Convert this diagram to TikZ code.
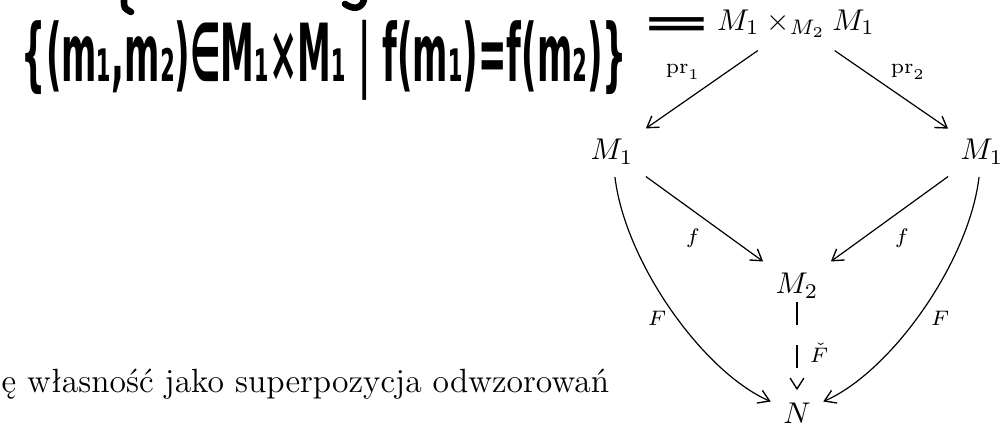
\documentclass[tikz,border=0pt]{standalone}
\usepackage{fontspec}
\newfontfamily\hw{DejaVu Sans}
\usetikzlibrary{arrows.meta}
\begin{document}
\begin{tikzpicture}[x=0.3333pt,y=-0.3333pt,
  obj/.style={inner sep=4pt},
  arr/.style={draw, line width=0.4pt, -{Straight Barb[length=3.6pt,width=4.6pt,line width=0.45pt]}},
  dasharr/.style={arr, dash pattern=on 7.7pt off 6.7pt},
  lab/.style={inner sep=0pt},
  ink/.style={line width=2.2pt, line cap=round}]
\useasboundingbox (0,0) rectangle (1007,436);
% handwritten set
\node[inner sep=0pt] (set) at (324.5,60) {\resizebox*{201.7pt}{26.7pt}{\hw\bfseries \{(m₁,m₂)∈M₁×M₁ | f(m₁)=f(m₂)\}}};
\node[inner sep=0pt] (eq) at (676.5,27.5) {\resizebox*{24.3pt}{6.3pt}{\hw\bfseries =}};
\draw[ink] (124,0) .. controls (124,8) .. (131,12);
\draw[ink] (345,4) .. controls (352,9) and (361,10) .. (364,0);
% diagram objects
\node[obj] (top) at (796,24) {$M_1\times_{M_2} M_1$};
\node[obj] (m1l) at (612,152) {$M_1$};
\node[obj] (m1r) at (982,152) {$M_1$};
\node[obj] (m2) at (797,286) {$M_2$};
\node[obj] (n) at (797,413) {$N$};
% arrows
\draw[arr] (top) -- (m1l);
\draw[arr] (top) -- (m1r);
\draw[arr] (m1l) -- (m2);
\draw[arr] (m1r) -- (m2);
\draw[dasharr, shorten <=-3pt] (m2) -- (n);
\draw[arr] (m1l) .. controls (625,262) and (703,372) .. (n);
\draw[arr] (m1r) .. controls (969,262) and (891,372) .. (n);
% labels
\node[lab] (lpr1) at (683,72) {$\scriptstyle \mathrm{pr}_1$};
\node[lab] (lpr2) at (908,72) {$\scriptstyle \mathrm{pr}_2$};
\node[lab] (lf1) at (693,238) {$\scriptstyle f$};
\node[lab] (lf2) at (902,238) {$\scriptstyle f$};
\node[lab] (lF1) at (657,318) {$\scriptstyle F$};
\node[lab] (lF2) at (940,318) {$\scriptstyle F$};
\node[lab] (lFc) at (819,353) {$\scriptstyle \check{F}$};
% caption fragment
\node[inner sep=0pt, anchor=base west] (cap) at (1,393) {\fontsize{11.2}{13}\selectfont ę własność jako superpozycja odwzorowań};
\end{tikzpicture}
\end{document}
